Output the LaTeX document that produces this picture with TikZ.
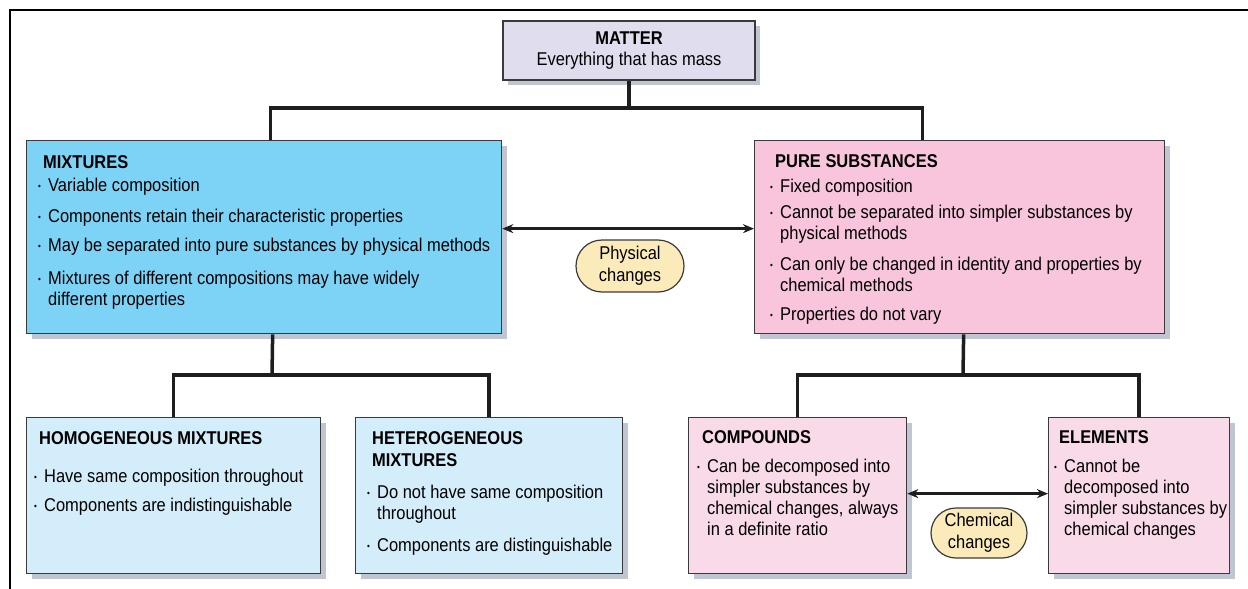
\documentclass[tikz,border=0pt]{standalone}
\usepackage{fontspec}
\setmainfont{Liberation Sans}[FakeStretch=0.89]
\usetikzlibrary{shadows, shapes.misc, arrows.meta}

\definecolor{matterfill}{HTML}{E0DEEE}
\definecolor{mixfill}{HTML}{7CD3F6}
\definecolor{purefill}{HTML}{F8C5DC}
\definecolor{homfill}{HTML}{D4EDFA}
\definecolor{cmpfill}{HTML}{F9DAE8}
\definecolor{tagfill}{HTML}{FCEBBA}
\definecolor{boxline}{HTML}{3A3A3A}
\definecolor{linkcol}{HTML}{1E1E1E}
\definecolor{shadowcol}{HTML}{7F8EA6}

\newcommand{\bull}{\makebox[10pt][l]{\raisebox{1.5pt}{\fontsize{9}{9}\selectfont\textbullet}}}
\newcommand{\cont}{\hspace*{10pt}}
\newcommand{\head}[1]{\hspace*{5pt}\textbf{#1}}

\begin{document}
\begin{tikzpicture}[x=1pt, y=-1pt,
  font=\fontsize{18.5}{21}\selectfont,
  box/.style={draw=boxline, line width=1.3pt, inner sep=0pt, anchor=north west,
    drop shadow={shadow xshift=5pt, shadow yshift=-5pt, fill=shadowcol, opacity=0.5}},
  txt/.style={anchor=north west, inner sep=0pt, align=left},
  link/.style={line width=3.5pt, draw=linkcol},
  twoway/.style={line width=2.6pt, draw=linkcol, {Stealth[length=11pt,width=9pt]}-{Stealth[length=11pt,width=9pt]}},
  tag/.style={rounded rectangle, draw=boxline, line width=1.2pt, fill=tagfill, inner sep=0pt,
    align=center, font=\fontsize{18.5}{22}\selectfont}]
\useasboundingbox (0,0) rectangle (1248,589);
\draw[line width=2pt] (10,589) -- (10,10) -- (1248,10);

% boxes
\node[box, anchor=center, fill=matterfill, minimum width=252pt, minimum height=59pt, align=center] (matter) at (629,50.5) {\textbf{MATTER}\\Everything that has mass};
\node[box, fill=mixfill, minimum width=475pt, minimum height=193pt] (mix) at (26,140) {};
\node[box, fill=purefill, minimum width=410pt, minimum height=193pt] (pure) at (754,140) {};
\node[box, fill=homfill, minimum width=294pt, minimum height=156pt] (hom) at (26,417) {};
\node[box, fill=homfill, minimum width=267pt, minimum height=156pt] (het) at (355,417) {};
\node[box, fill=cmpfill, minimum width=218pt, minimum height=156pt] (comp) at (688,417) {};
\node[box, fill=cmpfill, minimum width=181pt, minimum height=156pt] (elem) at (1048,417) {};

% texts
\node[txt] (mixtxt) at (38,155) {\head{MIXTURES}\\[2pt]
  \bull Variable composition\\[10pt]
  \bull Components retain their characteristic properties\\[8pt]
  \bull May be separated into pure substances by physical methods\\[12pt]
  \bull Mixtures of different compositions may have widely\\
  \cont different properties};
\node[txt] (puretxt) at (770,154) {\head{PURE SUBSTANCES}\\[4pt]
  \bull Fixed composition\\[5pt]
  \bull Cannot be separated into simpler substances by\\
  \cont physical methods\\[10pt]
  \bull Can only be changed in identity and properties by\\
  \cont chemical methods\\[8pt]
  \bull Properties do not vary};
\node[txt] (homtxt) at (34,431) {\head{HOMOGENEOUS MIXTURES}\\[17pt]
  \bull Have same composition throughout\\[8pt]
  \bull Components are indistinguishable};
\node[txt] (hettxt) at (367,431) {\head{HETEROGENEOUS}\\[1pt]
  \head{MIXTURES}\\[11pt]
  \bull Do not have same composition\\
  \cont throughout\\[11pt]
  \bull Components are distinguishable};
\node[txt] (comptxt) at (697,430) {\head{COMPOUNDS}\\[8pt]
  \bull Can be decomposed into\\
  \cont simpler substances by\\
  \cont chemical changes, always\\
  \cont in a definite ratio};
\node[txt] (elemtxt) at (1054,430) {\head{ELEMENTS}\\[8pt]
  \bull Cannot be\\
  \cont decomposed into\\
  \cont simpler substances by\\
  \cont chemical changes};

% tags
\node[tag, minimum width=108pt, minimum height=52pt] (phys) at (630,266) {Physical\\changes};
\node[tag, minimum width=96pt, minimum height=50pt] (chem) at (979,533) {Chemical\\changes};

% tree lines
\coordinate (mtop) at (629,108);
\draw[link] (matter.south) -- (mtop);
\draw[link] ([xshift=6.5pt]mix.north) |- (mtop) -| ([xshift=-37pt]pure.north);
\coordinate (mbot) at (272,375);
\draw[link] ([xshift=8.5pt]mix.south) -- (mbot);
\draw[link] (hom.north) |- (mbot) -| (het.north);
\coordinate (pbot) at (963,375);
\draw[link] ([xshift=4pt]pure.south) -- (pbot);
\draw[link] (comp.north) |- (pbot) -| (elem.north);

% changes
\draw[twoway] ([yshift=8.5pt]mix.east) -- ([yshift=8.5pt]pure.west);
\draw[twoway] ([yshift=2pt]comp.east) -- ([yshift=2pt]elem.west);
\end{tikzpicture}
\end{document}
